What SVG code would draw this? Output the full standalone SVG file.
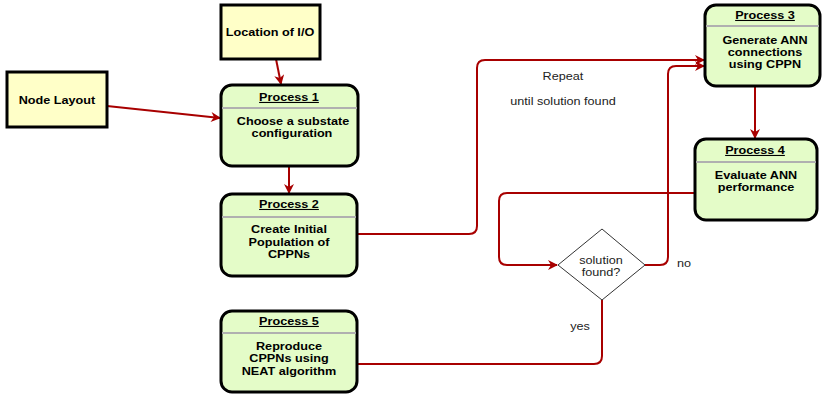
<svg xmlns="http://www.w3.org/2000/svg" width="822" height="394" viewBox="0 0 822 394">
<style>
.inp{fill:#ffffc8;stroke:#000;stroke-width:3}
.proc{fill:#e4fcc8;stroke:#000;stroke-width:3}
.sep{stroke:#b0b0b0;stroke-width:2}
.t{font-family:"Liberation Sans",Arial,sans-serif;font-size:11px;font-weight:bold;fill:#000;text-anchor:middle}
.h{text-decoration:underline}
.n{font-family:"Liberation Sans",Arial,sans-serif;font-size:11px;fill:#222;text-anchor:middle}
.c{fill:none;stroke:#a80000;stroke-width:2}
</style>
<defs>
<marker id="ah" viewBox="0 0 10 10" refX="9" refY="5" markerWidth="11" markerHeight="10" markerUnits="userSpaceOnUse" orient="auto">
<path d="M0,0 L10,5 L0,10 L3,5 Z" fill="#a80000"/>
</marker>
</defs>
<rect width="822" height="394" fill="#fff"/>
<g id="connectors">
<line class="c" x1="276" y1="59" x2="281" y2="84" marker-end="url(#ah)"/>
<line class="c" x1="107" y1="106" x2="220" y2="118" marker-end="url(#ah)"/>
<line class="c" x1="289" y1="166" x2="289" y2="193" marker-end="url(#ah)"/>
<path class="c" d="M357,234 H469 Q477,234 477,226 V68 Q477,60 485,60 H704" marker-end="url(#ah)"/>
<line class="c" x1="755" y1="86" x2="755" y2="138" marker-end="url(#ah)"/>
<path class="c" d="M695,193 H507 Q499,193 499,201 V257 Q499,265 507,265 H557" marker-end="url(#ah)"/>
<path class="c" d="M645,265 H660 Q668,265 668,257 V74 Q668,66 676,66 H704" marker-end="url(#ah)"/>
<path class="c" d="M602,300 V356 Q602,364 594,364 H358"/>
</g>
<g id="node-layout">
<rect class="inp" x="7" y="72" width="100" height="55"/>
<g transform="scale(1.15,1)"><text class="t" x="49.57" y="104">Node Layout</text></g>
</g>
<g id="location-io">
<rect class="inp" x="221" y="5" width="99" height="54"/>
<g transform="scale(1.15,1)"><text class="t" x="234.78" y="36">Location of I/O</text></g>
</g>
<g id="process1">
<rect class="proc" x="221" y="85" width="137" height="81" rx="11"/>
<line class="sep" x1="222" y1="108" x2="357" y2="108"/>
<g transform="scale(1.15,1)">
<text class="t h" x="251.3" y="101">Process 1</text>
<text class="t" x="254.78" y="125">Choose a substate</text>
<text class="t" x="253.91" y="137">configuration</text>
</g>
</g>
<g id="process2">
<rect class="proc" x="221" y="194" width="136" height="82" rx="11"/>
<line class="sep" x1="222" y1="217" x2="356" y2="217"/>
<g transform="scale(1.15,1)">
<text class="t h" x="251.3" y="208">Process 2</text>
<text class="t" x="251.3" y="233">Create Initial</text>
<text class="t" x="251.3" y="246">Population of</text>
<text class="t" x="251.3" y="258">CPPNs</text>
</g>
</g>
<g id="process5">
<rect class="proc" x="221" y="311" width="136" height="81" rx="11"/>
<line class="sep" x1="222" y1="333" x2="356" y2="333"/>
<g transform="scale(1.15,1)">
<text class="t h" x="251.3" y="325">Process 5</text>
<text class="t" x="251.3" y="350">Reproduce</text>
<text class="t" x="251.3" y="362">CPPNs using</text>
<text class="t" x="251.3" y="375">NEAT algorithm</text>
</g>
</g>
<g id="process3">
<rect class="proc" x="705" y="5" width="115" height="81" rx="11"/>
<line class="sep" x1="706" y1="26" x2="819" y2="26"/>
<g transform="scale(1.15,1)">
<text class="t h" x="665.22" y="19">Process 3</text>
<text class="t" x="665.22" y="44">Generate ANN</text>
<text class="t" x="665.22" y="56">connections</text>
<text class="t" x="665.22" y="68">using CPPN</text>
</g>
</g>
<g id="process4">
<rect class="proc" x="695" y="139" width="122" height="81" rx="11"/>
<line class="sep" x1="696" y1="162" x2="816" y2="162"/>
<g transform="scale(1.15,1)">
<text class="t h" x="656.52" y="154">Process 4</text>
<text class="t" x="657.39" y="179">Evaluate ANN</text>
<text class="t" x="657.39" y="191">performance</text>
</g>
</g>
<g id="decision">
<polygon points="602,229 645,265 602,300 558,265" fill="#fff" stroke="#333" stroke-width="1"/>
<g transform="scale(1.15,1)">
<text class="n" x="522.61" y="264">solution</text>
<text class="n" x="522.61" y="276">found?</text>
</g>
</g>
<g id="labels" transform="scale(1.15,1)">
<text class="n" x="489.57" y="80">Repeat</text>
<text class="n" x="489.57" y="105">until solution found</text>
<text class="n" x="594.78" y="267">no</text>
<text class="n" x="504.35" y="330">yes</text>
</g>
</svg>
